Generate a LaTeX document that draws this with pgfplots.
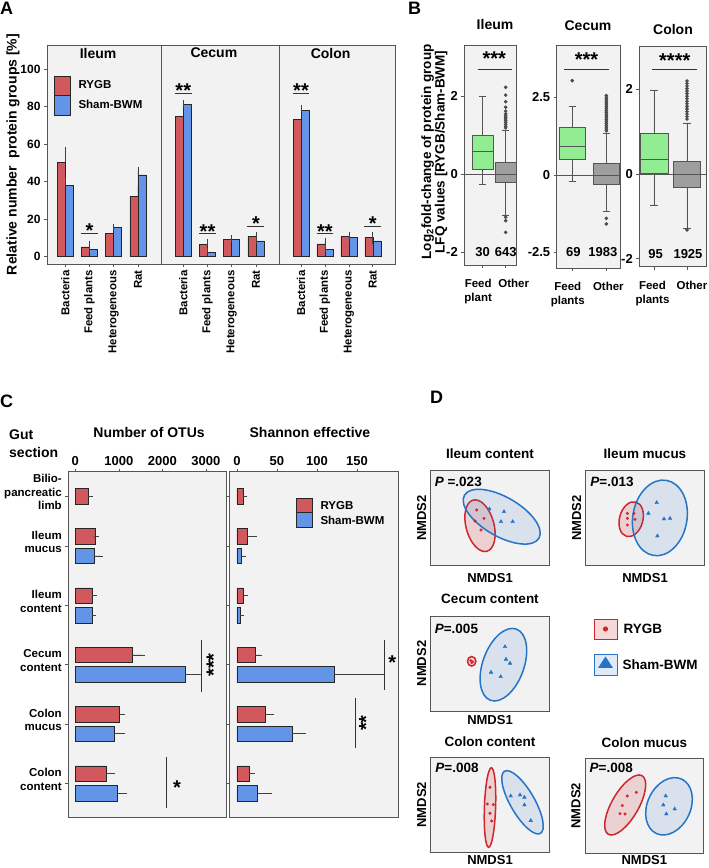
\documentclass[border=0pt]{standalone}
\usepackage{fontspec}
\setmainfont{Liberation Sans}
\usepackage{pgfplots}
\pgfplotsset{compat=1.18}
\usepgfplotslibrary{statistics}

\definecolor{ry}{RGB}{209,88,92}
\definecolor{sh}{RGB}{98,148,232}
\definecolor{pbg}{RGB}{242,242,242}
\definecolor{frm}{RGB}{85,85,85}
\definecolor{lgreen}{RGB}{146,236,146}
\definecolor{bgray}{RGB}{158,158,158}
\definecolor{ered}{RGB}{205,38,44}
\definecolor{eblue}{RGB}{38,116,200}

\newcommand{\Y}[1]{\the\dimexpr 868pt-#1pt\relax}
\newcommand{\fz}[2]{\fontsize{#1}{#2}\selectfont\bfseries}

\pgfplotsset{
 panel/.style={scale only axis, clip=false, anchor=south west,
   axis background/.style={fill=pbg},
   axis line style={frm, line width=0.8pt},
   tick style={frm, line width=0.6pt},
   tick align=outside, major tick length=3pt,
   /pgf/number format/assume math mode=true,
   /pgf/number format/1000 sep={},
   scaled ticks=false,
   tick label style={font=\fz{12}{14}},
   label style={font=\fz{14}{17}},
   title style={font=\fz{14}{17}, anchor=center}},
 afacet/.style={panel, height=219pt, ymin=-4.1, ymax=113,
   xtick={1,2,3,4}, xticklabels={Bacteria,Feed plants,Heterogeneous,Rat},
   xticklabel style={rotate=90, anchor=east, font=\fz{11.4}{13}},
   xtick pos=left, ytick pos=left, title style={at={(0.445,0.936)}}},
 rybar/.style={ybar, bar width=8pt, bar shift=-4pt, fill=ry, draw=black!85, line width=0.5pt,
   error bars/.cd, y dir=plus, y explicit,
   error bar style={line width=0.6pt, black!75},
   error mark options={line width=0.6pt, mark size=3.5pt, black!75}},
 shbar/.style={ybar, bar width=8pt, bar shift=4pt, fill=sh, draw=black!85, line width=0.5pt,
   error bars/.cd, y dir=plus, y explicit,
   error bar style={line width=0.6pt, black!75},
   error mark options={line width=0.6pt, mark size=3.5pt, black!75}},
 bpanel/.style={panel, xtick={1,2}, xtick pos=left, ytick pos=left,
   tick label style={font=\fz{13}{15}},
   xticklabel style={align=center, anchor=north, yshift=-8pt, font=\fz{11.5}{14}}},
 bxg/.style={fill=lgreen, draw=frm, line width=0.6pt},
 bxo/.style={fill=bgray, draw=frm, line width=0.6pt, mark=*, mark size=1.5pt, mark options={fill=black!70, draw=black!70}},
 cpanel/.style={panel, height=345.6pt, ymin=-5.573, ymax=0.253,
   xtick pos=right, xticklabel pos=right, ytick pos=left,
   ytick={-5,-4,-3,-2,-1,-0.157},
   tick label style={font=\fz{13}{15}}},
 hry/.style={xbar, bar width=15.5pt, bar shift=0pt, fill=ry, draw=black!85, line width=0.5pt,
   error bars/.cd, x dir=plus, x explicit,
   error bar style={line width=0.6pt, black!75},
   error mark options={line width=0.6pt, mark size=2.3pt, black!75}},
 hsh/.style={xbar, bar width=15.5pt, bar shift=0pt, fill=sh, draw=black!85, line width=0.5pt,
   error bars/.cd, x dir=plus, x explicit,
   error bar style={line width=0.6pt, black!75},
   error mark options={line width=0.6pt, mark size=2.3pt, black!75}},
 dpanel/.style={panel, width=118.6pt, height=95pt, xmin=0, xmax=118.6, ymin=0, ymax=95,
   xtick=\empty, ytick=\empty, xlabel={NMDS1}, ylabel={NMDS2},
   label style={font=\fz{13}{15}},
   ylabel style={at={(axis description cs:-0.076,0.5)}, anchor=center},
   title style={font=\fz{13.5}{15}}},
 rpts/.style={only marks, mark=*, mark size=1.3pt, ered},
 bpts/.style={only marks, mark=triangle*, mark size=2.1pt, eblue},
}
\tikzset{
 starA/.style={font=\fz{20}{20}, anchor=base, inner sep=0pt, yshift=-4.8pt},
 sigl/.style={black!80, line width=0.8pt},
 rstar/.style={font=\fz{20}{20}, inner sep=0pt, xshift=4.2pt, rotate=90},
 cstar/.style={font=\fz{20}{20}, inner sep=0pt, yshift=-4.2pt},
 rell/.style={draw=ered, line width=1.5pt, fill=ered, fill opacity=0.16, draw opacity=1},
 bell/.style={draw=eblue, line width=1.5pt, fill=eblue, fill opacity=0.12, draw opacity=1},
 pval/.style={anchor=west, font=\fz{13.5}{15}},
}

\begin{document}
\begin{tikzpicture}
\path[use as bounding box] (0,0) rectangle (709pt,868pt);

% ---------------- Panel A ----------------
\begin{axis}[afacet, at={(47pt,\Y{264})}, width=114.7pt, xmin=0.25, xmax=4.98,
  ytick={0,20,...,100}, title={Ileum},
  ylabel={Relative number\ \ protein groups [\%]},
  ylabel style={at={(axis description cs:-0.296,0.5)}, anchor=center}]
\addplot[rybar] coordinates {(1,50.3) +- (0,6.5) (2,5.1) +- (0,1.3) (3,12.3) +- (0,1.8) (4,32.2) +- (0,5.6)};
\addplot[shbar] coordinates {(1,38.0) +- (0,1.9) (2,3.7) +- (0,0.4) (3,15.3) +- (0,0.2) (4,43.5) +- (0,2.3)};
\draw[sigl] (axis cs:1.65,12.5) -- (axis cs:2.35,12.5);
\node[starA] at (axis cs:2,12.5) {*};
\end{axis}

\begin{axis}[afacet, at={(161.7pt,\Y{264})}, width=117.3pt, xmin=0.11, xmax=4.95,
  ytick=\empty, title={Cecum}]
\addplot[rybar] coordinates {(1,75.0) +- (0,0.9) (2,6.4) +- (0,1.1) (3,9.25) +- (0,0.2) (4,10.5) +- (0,0.7)};
\addplot[shbar] coordinates {(1,81.3) +- (0,0.3) (2,2.1) +- (0,0.4) (3,9.25) +- (0,0.1) (4,8.2) +- (0,0.2)};
\draw[sigl] (axis cs:0.65,87.3) -- (axis cs:1.35,87.3);
\node[starA] at (axis cs:1,87.3) {**};
\draw[sigl] (axis cs:1.65,12.3) -- (axis cs:2.35,12.3);
\node[starA] at (axis cs:2,12.3) {**};
\draw[sigl] (axis cs:3.65,16.2) -- (axis cs:4.35,16.2);
\node[starA] at (axis cs:4,16.2) {*};
\end{axis}

\begin{axis}[afacet, at={(279pt,\Y{264})}, width=116pt, xmin=0.08, xmax=4.93,
  ytick=\empty, title={Colon}]
\addplot[rybar] coordinates {(1,73.4) +- (0,0.7) (2,6.6) +- (0,1.2) (3,10.7) +- (0,0.2) (4,10.2) +- (0,0.8)};
\addplot[shbar] coordinates {(1,78.2) +- (0,0.6) (2,3.7) +- (0,0.4) (3,10.1) +- (0,0.2) (4,8.2) +- (0,0.2)};
\draw[sigl] (axis cs:0.65,87.3) -- (axis cs:1.35,87.3);
\node[starA] at (axis cs:1,87.3) {**};
\draw[sigl] (axis cs:1.65,12.3) -- (axis cs:2.35,12.3);
\node[starA] at (axis cs:2,12.3) {**};
\draw[sigl] (axis cs:3.65,16.2) -- (axis cs:4.35,16.2);
\node[starA] at (axis cs:4,16.2) {*};
\end{axis}

% legend A
\draw[black!85, line width=0.6pt, fill=ry] (54pt,\Y{76}) rectangle (70.7pt,\Y{95.7});
\draw[black!85, line width=0.6pt, fill=sh] (54pt,\Y{95.7}) rectangle (70.7pt,\Y{115});
\node[anchor=west, font=\fz{11.5}{13}] at (75pt,\Y{84.7}) {RYGB};
\node[anchor=west, font=\fz{11.5}{13}] at (75pt,\Y{104.3}) {Sham-BWM};

% ---------------- Panel B ----------------
\begin{axis}[bpanel, at={(464.3pt,\Y{265})}, width=52.4pt, height=220pt,
  xmin=0.2, xmax=2.48, ymin=-2.326, ymax=3.315, ytick={-2,0,2},
  xticklabels={{Feed\hspace*{9pt}\\plant\hspace*{9pt}},{\hspace*{16pt}Other}},
  title={Ileum}, title style={at={(0.586,1.068)}},
  ylabel={Log\textsubscript{2}fold-change of protein group\\LFQ values [RYGB/Sham-BWM]},
  ylabel style={align=center, at={(axis description cs:-0.569,0.514)}, anchor=center, font=\fz{13.5}{13.5}}]
\draw[frm, line width=0.7pt] (axis cs:0.2,0) -- (axis cs:2.48,0);
\addplot[bxg, boxplot prepared={draw direction=y, draw position=1, lower whisker=-0.26, lower quartile=0.13,
  median=0.58, upper quartile=1.01, upper whisker=1.99, box extend=0.91, whisker extend=0.3}] coordinates {};
\addplot[bxo, boxplot prepared={draw direction=y, draw position=2, lower whisker=-1.04, lower quartile=-0.21,
  median=0.0, upper quartile=0.32, upper whisker=1.14, box extend=0.94, whisker extend=0.3}]
  table[row sep=\\, y index=0] {v\\ 2.23\\ 2.03\\ 1.86\\ 1.72\\ 1.62\\ 1.55\\ 1.50\\ 1.46\\ 1.42\\ 1.38\\ 1.33\\ 1.28\\ 1.23\\ 1.19\\ -1.10\\ -1.19\\ -1.49\\};
\draw[sigl] (axis cs:0.78,2.69) -- (axis cs:2.26,2.69);
\node[starA, yshift=8.6pt] at (axis cs:1.5,2.69) {***};
\node[font=\fz{13}{15}] at (axis cs:1,-2.0) {30};
\node[font=\fz{13}{15}] at (axis cs:2,-2.0) {643};
\end{axis}

\begin{axis}[bpanel, at={(556.7pt,\Y{268})}, width=63.3pt, height=223pt,
  xmin=0.544, xmax=2.40, ymin=-3.0, ymax=4.19, ytick={-2.5,0,2.5},
  xticklabels={{Feed\hspace*{9pt}\\plants\hspace*{9pt}},{\hspace*{4pt}Other}},
  title={Cecum}, title style={at={(0.494,1.058)}}]
\draw[frm, line width=0.7pt] (axis cs:0.544,0) -- (axis cs:2.40,0);
\addplot[bxg, mark=*, mark size=1.5pt, mark options={fill=black!70, draw=black!70},
  boxplot prepared={draw direction=y, draw position=1, lower whisker=-0.22, lower quartile=0.52,
  median=0.91, upper quartile=1.54, upper whisker=2.2, box extend=0.76, whisker extend=0.22}]
  table[row sep=\\, y index=0] {v\\ 3.04\\};
\addplot[bxo, boxplot prepared={draw direction=y, draw position=2, lower whisker=-1.18, lower quartile=-0.3,
  median=0.0, upper quartile=0.38, upper whisker=1.34, box extend=0.76, whisker extend=0.22}]
  table[row sep=\\, y index=0] {v\\ 1.42\\ 1.48\\ 1.54\\ 1.60\\ 1.66\\ 1.72\\ 1.78\\ 1.84\\ 1.90\\ 1.96\\ 2.02\\ 2.08\\ 2.14\\ 2.20\\ 2.26\\ 2.32\\ 2.38\\ 2.44\\ 2.50\\ 2.56\\ -1.40\\ -1.58\\};
\draw[sigl] (axis cs:0.76,3.41) -- (axis cs:2.09,3.41);
\node[starA, yshift=7.6pt] at (axis cs:1.42,3.41) {***};
\node[font=\fz{13}{15}] at (axis cs:1.03,-2.5) {69};
\node[font=\fz{13}{15}] at (axis cs:1.9,-2.5) {1983};
\end{axis}

\begin{axis}[bpanel, at={(639.3pt,\Y{266.7})}, width=66.7pt, height=220pt,
  xmin=0.555, xmax=2.576, ymin=-2.19, ymax=3.01, ytick={-2,0,2},
  xticklabels={{Feed\hspace*{3pt}\\plants\hspace*{3pt}},{\hspace*{10pt}Other}},
  title={Colon}, title style={at={(0.505,1.053)}}]
\draw[frm, line width=0.7pt] (axis cs:0.555,0) -- (axis cs:2.576,0);
\addplot[bxg, boxplot prepared={draw direction=y, draw position=1, lower whisker=-0.73, lower quartile=0.02,
  median=0.35, upper quartile=0.96, upper whisker=1.99, box extend=0.85, whisker extend=0.22}] coordinates {};
\addplot[bxo, boxplot prepared={draw direction=y, draw position=2, lower whisker=-1.28, lower quartile=-0.32,
  median=0.0, upper quartile=0.31, upper whisker=1.21, box extend=0.8, whisker extend=0.22}]
  table[row sep=\\, y index=0] {v\\ 1.30\\ 1.36\\ 1.42\\ 1.48\\ 1.54\\ 1.60\\ 1.66\\ 1.72\\ 1.78\\ 1.84\\ 1.90\\ 1.96\\ 2.02\\ 2.08\\ 2.14\\ 2.20\\ -1.32\\};
\draw[sigl] (axis cs:0.94,2.48) -- (axis cs:2.31,2.48);
\node[starA, yshift=6.6pt] at (axis cs:1.63,2.48) {****};
\node[font=\fz{13}{15}] at (axis cs:1.05,-1.88) {95};
\node[font=\fz{13}{15}] at (axis cs:2.03,-1.88) {1925};
\end{axis}

% ---------------- Panel C ----------------
\begin{axis}[cpanel, at={(68.3pt,\Y{817.3})}, width=157.7pt,
  xmin=-161, xmax=3464, xtick={0,1000,2000,3000},
  yticklabels={{Colon\\content},{Colon\\mucus},{Cecum\\content},{Ileum\\content},{Ileum\\mucus},{Bilio-\\pancreatic\\limb}},
  yticklabel style={align=right, font=\fz{11.5}{13.4}, yshift=4pt},
  title={Number of OTUs}, title style={at={(0.512,1.0967)}}]
\addplot[hry] coordinates {(294,-0.157) +- (50,0) (448,-0.835) +- (40,0) (395,-1.835) +- (50,0)
  (1306,-2.835) +- (240,0) (1007,-3.835) +- (78,0) (717,-4.835) +- (138,0)};
\addplot[hsh] coordinates {(432,-1.165) +- (154,0) (395,-2.165) +- (37,0)
  (2517,-3.165) +- (315,0) (885,-4.165) +- (214,0) (970,-5.165) +- (168,0)};
\draw[sigl] (axis cs:2897,-2.585) -- (axis cs:2897,-3.457);
\node[rstar] at (axis cs:3080,-3.007) {***};
\draw[sigl] (axis cs:2101,-4.563) -- (axis cs:2101,-5.423);
\node[cstar] at (axis cs:2338,-5.0) {*};
\end{axis}

\begin{axis}[cpanel, at={(229.3pt,\Y{817.3})}, width=168.7pt,
  xmin=-9.6, xmax=201.3, xtick={0,50,100,150}, yticklabels={},
  title={Shannon effective}, title style={at={(0.478,1.0967)}}]
\addplot[hry] coordinates {(8,-0.157) +- (2,0) (12.9,-0.835) +- (8.7,0) (7.9,-1.835) +- (2.5,0)
  (22.9,-2.835) +- (6.1,0) (35,-3.835) +- (9,0) (15,-4.835) +- (4.6,0)};
\addplot[hsh] coordinates {(5.4,-1.165) +- (2.5,0) (3.75,-2.165) +- (2.5,0)
  (121.6,-3.165) +- (59.4,0) (69,-4.165) +- (14,0) (25.8,-5.165) +- (15,0)};
\draw[sigl] (axis cs:184,-2.585) -- (axis cs:184,-3.428);
\node[cstar] at (axis cs:194,-2.894) {*};
\draw[sigl] (axis cs:148.4,-3.568) -- (axis cs:148.4,-4.411);
\node[rstar] at (axis cs:156,-3.985) {**};
\end{axis}

% legend C
\draw[black!85, line width=0.6pt, fill=ry] (296.7pt,\Y{498.3}) rectangle (312.3pt,\Y{512.7});
\draw[black!85, line width=0.6pt, fill=sh] (296.7pt,\Y{512.7}) rectangle (312.3pt,\Y{527.3});
\node[anchor=west, font=\fz{11.5}{13}] at (317pt,\Y{505.5}) {RYGB};
\node[anchor=west, font=\fz{11.5}{13}] at (317pt,\Y{520.5}) {Sham-BWM};
\node[anchor=north west, align=left, font=\fz{14}{18}, inner sep=0pt] at (9pt,\Y{430}) {Gut\\section};

% ---------------- Panel D ----------------
\begin{axis}[dpanel, at={(430.7pt,\Y{565.7})}, title={Ileum content},
  title style={at={(0.5,1.113)}}, xlabel style={at={(axis description cs:0.5,-0.133)}, anchor=center}]
\draw[rell] (axis cs:49.3,40) ellipse [x radius=26.5pt, y radius=14pt, rotate=105];
\draw[bell] (axis cs:71,49) ellipse [x radius=43pt, y radius=19.6pt, rotate=-30];
\addplot[rpts] coordinates {(46,55.7) (53.3,47.3) (44.3,44.7) (50.3,35.7)};
\addplot[bpts] coordinates {(58.7,56.7) (73.3,54) (70.3,44) (82,44)};
\node[pval] at (axis description cs:0.005,0.884) {\textit{P} =.023};
\end{axis}

\begin{axis}[dpanel, at={(585.7pt,\Y{565.7})}, title={Ileum mucus},
  title style={at={(0.5,1.113)}}, xlabel style={at={(axis description cs:0.5,-0.133)}, anchor=center}]
\draw[rell] (axis cs:45.5,46.5) ellipse [x radius=17.8pt, y radius=11.7pt, rotate=75];
\draw[bell] (axis cs:74.2,47.8) ellipse [x radius=38.1pt, y radius=27.1pt, rotate=80];
\addplot[rpts] coordinates {(41.7,52.3) (48.3,52.3) (41.7,47.3) (49.3,46.3) (41.7,40.7)};
\addplot[bpts] coordinates {(71,63) (62.7,52.3) (78.3,46.7) (84.3,47.3) (71.7,29.7)};
\node[pval] at (axis description cs:0.01,0.884) {\textit{P}=.013};
\end{axis}

\begin{axis}[dpanel, at={(430.7pt,\Y{711})}, title={Cecum content},
  title style={at={(0.5,1.12)}}, xlabel style={at={(axis description cs:0.5,-0.094)}, anchor=center}]
\draw[rell] (axis cs:41,49.7) ellipse [x radius=4.8pt, y radius=4.2pt, rotate=90];
\draw[bell] (axis cs:72.7,46.3) ellipse [x radius=37.9pt, y radius=20.6pt, rotate=70];
\addplot[rpts, mark size=1.1pt] coordinates {(40,50.5) (42,49.3) (41,48.3)};
\addplot[bpts] coordinates {(74.3,64.3) (75.3,51.7) (79.3,47.7) (60.3,38.7) (70,34.3)};
\node[pval] at (axis description cs:0.005,0.861) {\textit{P}=.005};
\end{axis}

\begin{axis}[dpanel, at={(430.7pt,\Y{852.3})}, title={Colon content},
  title style={at={(0.5,1.105)}}, xlabel style={at={(axis description cs:0.5,-0.085)}, anchor=center}]
\draw[rell] (axis cs:59.3,44.8) ellipse [x radius=39.8pt, y radius=5.6pt, rotate=88];
\draw[bell] (axis cs:91.8,50) ellipse [x radius=35.9pt, y radius=12.1pt, rotate=120];
\addplot[rpts] coordinates {(59.3,65) (56.7,48.3) (62.7,47.7) (59.3,39) (61,31.3)};
\addplot[bpts] coordinates {(80,56.3) (89.3,57.3) (93.7,55) (93.7,47.3) (100,31.7)};
\node[pval] at (axis description cs:0.01,0.884) {\textit{P}=.008};
\end{axis}

\begin{axis}[dpanel, at={(585pt,\Y{853.3})}, title={Colon mucus},
  title style={at={(0.5,1.105)}}, xlabel style={at={(axis description cs:0.5,-0.075)}, anchor=center}]
\draw[rell] (axis cs:40.2,48.3) ellipse [x radius=33.8pt, y radius=13.4pt, rotate=60];
\draw[bell] (axis cs:84,47) ellipse [x radius=30pt, y radius=21.6pt, rotate=65];
\addplot[rpts] coordinates {(42.3,57.3) (51.3,61) (37.3,47.7) (35,39.7) (40,39.3)};
\addplot[bpts] coordinates {(80.7,57.3) (78.3,48.3) (89.7,44.3) (81.3,39.3)};
\node[pval] at (axis description cs:0.01,0.895) {\textit{P}=.008};
\end{axis}

% legend D
\draw[ered, line width=0.9pt, fill=ered!18] (594pt,\Y{619}) rectangle (617pt,\Y{639});
\fill[ered] (605.5pt,\Y{629}) circle (2.6pt);
\draw[eblue, line width=0.9pt, fill=eblue!15] (594pt,\Y{654}) rectangle (617pt,\Y{675});
\fill[eblue] (598pt,\Y{668}) -- (613pt,\Y{668}) -- (605.5pt,\Y{656.5}) -- cycle;
\node[anchor=west, font=\fz{13.5}{15}] at (620pt,\Y{628.7}) {RYGB};
\node[anchor=west, font=\fz{13.5}{15}] at (619pt,\Y{664.5}) {Sham-BWM};

% panel letters
\node[anchor=north west, inner sep=0pt, font=\fz{18}{20}] at (0pt,\Y{2}) {A};
\node[anchor=north west, inner sep=0pt, font=\fz{18}{20}] at (408pt,\Y{2}) {B};
\node[anchor=north west, inner sep=0pt, font=\fz{18}{20}] at (0pt,\Y{395}) {C};
\node[anchor=north west, inner sep=0pt, font=\fz{18}{20}] at (430pt,\Y{391}) {D};
\end{tikzpicture}
\end{document}
